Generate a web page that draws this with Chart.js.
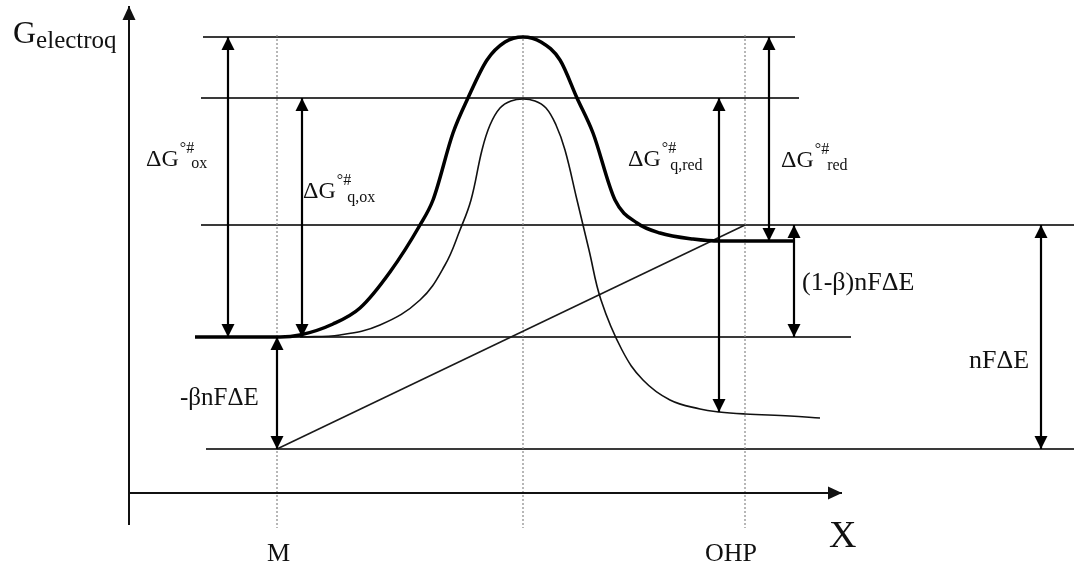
<!DOCTYPE html>
<html>
<head>
<meta charset="utf-8">
<script src="https://cdn.jsdelivr.net/npm/chart.js@4.4.0/dist/chart.umd.min.js"></script>
<style>
  html, body { margin: 0; padding: 0; background: #fff; }
  #wrap { width: 1074px; height: 564px; }
</style>
</head>
<body>
<div id="wrap"><canvas id="diagram" width="1074" height="564"></canvas></div>
<script>
// diagram units: x along the reaction coordinate, y = energy level (drawn downwards on a reversed scale)
var levelY    = [37, 98, 225, 337, 449];
var levelFrom = [203, 201, 201, 195, 206];
var levelTo   = [795, 799, 1074, 851, 1074];

var markerX      = [277, 523, 745];
var markerLabels = ['M', '', 'OHP'];

// G electrochemical (thick)
var thickX = [195, 280, 300, 333, 360, 390, 420, 433, 453, 468, 487, 505, 523, 541, 560, 577, 593, 615, 637, 660, 693, 720, 795];
var thickY = [337, 337, 335, 324, 308, 272, 225, 200, 133, 98, 60, 42, 37, 42, 60, 98, 133, 200, 223, 233, 239, 241, 241];

// chemical part (thin)
var thinX = [300, 340, 380, 420, 445, 460, 471, 482, 490, 500, 511, 523, 535, 546, 556, 565, 577, 589, 601, 622, 643, 670, 700, 719, 745, 790, 820];
var thinY = [337, 335, 325, 300, 265, 230, 200, 150, 125, 108, 101, 99, 101, 108, 125, 150, 200, 250, 300, 350, 380, 400, 409, 412, 414, 416, 418];

// electrical part (straight)
var fieldX = [277, 745];
var fieldY = [449, 225];

// double arrows
var arrowX    = [228, 302, 719, 769, 794, 1041, 277];
var arrowFrom = [37, 98, 98, 37, 225, 225, 337];
var arrowTo   = [337, 337, 412, 241, 337, 449, 449];

function pts(xs, ys) {
  return xs.map(function(x, i) { return {x: x, y: ys[i]}; });
}

// pushed bottom layer first
var datasets = [];

levelY.forEach(function(y, i) {
  datasets.push({ data: [{x: levelFrom[i], y: y}, {x: levelTo[i], y: y}],
    borderColor: '#3a3a3a', borderWidth: 1.8 });
});

markerX.forEach(function(x) {
  datasets.push({ data: [{x: x, y: 35}, {x: x, y: 528}],
    borderColor: '#888', borderWidth: 1.2, borderDash: [2, 2] });
});

datasets.push({ data: pts(fieldX, fieldY), borderColor: '#1a1a1a', borderWidth: 1.6 });
datasets.push({ data: pts(thinX, thinY), borderColor: '#111', borderWidth: 1.6, tension: 0.4 });
datasets.push({ data: pts(thickX, thickY), borderColor: '#000', borderWidth: 3.5, cubicInterpolationMode: 'monotone' });

arrowX.forEach(function(x, i) {
  datasets.push({ data: [{x: x, y: arrowFrom[i]}, {x: x, y: arrowTo[i]}],
    borderColor: '#000', borderWidth: 2.2, heads: [true, true], headLen: 13, headHalf: 6.5 });
});

// axes
datasets.push({ data: [{x: 129, y: 525}, {x: 129, y: 6}], borderColor: '#111', borderWidth: 2,
  heads: [false, true], headLen: 14, headHalf: 6.5 });
datasets.push({ data: [{x: 129, y: 493}, {x: 842, y: 493}], borderColor: '#111', borderWidth: 2,
  heads: [false, true], headLen: 14, headHalf: 6.5 });

// chart.js paints dataset 0 last, so flip to keep the layering above
datasets.reverse();

var labels = [
  { x: 13,  y: 43,  parts: [['G', 32, 0, 0], ['electroq', 25, 5, 0]] },
  { x: 146, y: 166, parts: [['ΔG', 24, 0, 0], ['°#', 16, -13, 1], ['ox', 16, 2, -3]] },
  { x: 303, y: 198, parts: [['ΔG', 24, 0, 0], ['°#', 16, -13, 1], ['q,ox', 16, 4, -4]] },
  { x: 628, y: 166, parts: [['ΔG', 24, 0, 0], ['°#', 16, -13, 1], ['q,red', 16, 4, -6]] },
  { x: 781, y: 167, parts: [['ΔG', 24, 0, 0], ['°#', 16, -13, 1], ['red', 16, 3, -2]] },
  { x: 802, y: 290, parts: [['(1-β)nFΔE', 26, 0, 0]] },
  { x: 969, y: 368, parts: [['nFΔE', 26, 0, 0]] },
  { x: 180, y: 405, parts: [['-βnFΔE', 25, 0, 0]] },
  { x: 829, y: 547, parts: [['X', 38, 0, 0]] }
];
markerLabels.forEach(function(t, i) {
  if (t) labels.push({ x: markerX[i] - (t.length > 1 ? 40 : 10), y: 561, parts: [[t, 26, 0, 0]] });
});

function drawHead(ctx, from, to, len, half) {
  var a = Math.atan2(to.y - from.y, to.x - from.x);
  var bx = to.x - len * Math.cos(a), by = to.y - len * Math.sin(a);
  ctx.beginPath();
  ctx.moveTo(to.x, to.y);
  ctx.lineTo(bx + half * Math.sin(a), by - half * Math.cos(a));
  ctx.lineTo(bx - half * Math.sin(a), by + half * Math.cos(a));
  ctx.closePath();
  ctx.fill();
}

var diagramExtras = {
  id: 'diagramExtras',
  afterDatasetsDraw: function(chart) {
    var ctx = chart.ctx;
    chart.data.datasets.forEach(function(ds, i) {
      if (!ds.heads) return;
      var p = chart.getDatasetMeta(i).data;
      ctx.save();
      ctx.fillStyle = ds.borderColor;
      if (ds.heads[0]) drawHead(ctx, p[1], p[0], ds.headLen, ds.headHalf);
      if (ds.heads[1]) drawHead(ctx, p[p.length - 2], p[p.length - 1], ds.headLen, ds.headHalf);
      ctx.restore();
    });

    var sx = chart.scales.x, sy = chart.scales.y;
    ctx.save();
    ctx.fillStyle = '#111';
    ctx.textBaseline = 'alphabetic';
    ctx.textAlign = 'left';
    labels.forEach(function(l) {
      var x = sx.getPixelForValue(l.x), y = sy.getPixelForValue(l.y);
      l.parts.forEach(function(part) {
        ctx.font = part[1] + 'px "Liberation Serif", "Times New Roman", serif';
        x += part[3];
        ctx.fillText(part[0], x, y + part[2]);
        x += ctx.measureText(part[0]).width;
      });
    });
    ctx.restore();
  }
};

new Chart(document.getElementById('diagram'), {
  type: 'scatter',
  data: { datasets: datasets.map(function(d) {
    d.showLine = true; d.pointRadius = 0; d.pointHoverRadius = 0; d.fill = false;
    return d;
  }) },
  options: {
    responsive: false,
    animation: false,
    events: [],
    layout: { padding: 0 },
    plugins: { legend: { display: false }, tooltip: { enabled: false } },
    scales: {
      x: { type: 'linear', min: 0, max: 1074, display: false },
      y: { type: 'linear', min: 0, max: 564, reverse: true, display: false }
    }
  },
  plugins: [diagramExtras]
});
</script>
</body>
</html>
